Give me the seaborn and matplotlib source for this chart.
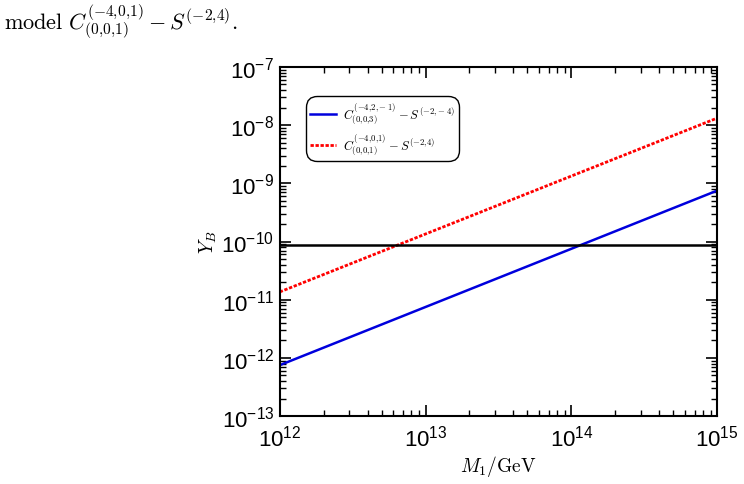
import matplotlib
matplotlib.use("Agg")
import matplotlib.pyplot as plt
import matplotlib.ticker as mticker
from matplotlib.font_manager import FontProperties
import seaborn as sns
import pandas as pd
import numpy as np

# Data
M1 = [1e12, 1e15]
YB_blue = [7.5e-13, 7.5e-10]
YB_red = [1.36e-11, 1.32e-8]
YB_obs = 8.7e-11
label_blue = r"$C^{(-4{,}2{,}-1)}_{(0{,}0{,}3)}-S^{(-2{,}-4)}$"
label_red = r"$C^{(-4{,}0{,}1)}_{(0{,}0{,}1)}-S^{(-2{,}4)}$"

plt.rcParams["font.family"] = ["Liberation Sans", "DejaVu Sans"]
plt.rcParams["mathtext.fontset"] = "custom"
plt.rcParams["mathtext.rm"] = "Liberation Sans"
plt.rcParams["mathtext.it"] = "Liberation Sans:italic"
plt.rcParams["mathtext.bf"] = "Liberation Sans:bold"
plt.rcParams["mathtext.sf"] = "Liberation Sans"

fig = plt.figure(figsize=(7.44, 4.85), dpi=100)
ax = fig.add_axes([0.376, 0.140, 0.588, 0.720])

df = pd.DataFrame({"M1": M1 + M1,
                   "YB": YB_blue + YB_red,
                   "model": [label_blue] * 2 + [label_red] * 2})
sns.lineplot(data=df[df.model == label_blue], x="M1", y="YB", ax=ax,
             color="#0000dd", lw=1.8, label=label_blue)
sns.lineplot(data=df[df.model == label_red], x="M1", y="YB", ax=ax,
             color="#ff0000", lw=2.0, linestyle=(0, (1.2, 0.6)), label=label_red)
ax.axhline(YB_obs, color="black", lw=1.8)

ax.set_xscale("log")
ax.set_yscale("log")
ax.set_xlim(1e12, 1e15)
ax.set_ylim(1e-13, 1e-7)

ax.xaxis.set_major_locator(mticker.LogLocator(base=10, numticks=10))
ax.yaxis.set_major_locator(mticker.LogLocator(base=10, numticks=10))
ax.xaxis.set_minor_locator(mticker.LogLocator(base=10, subs=np.arange(2, 10), numticks=20))
ax.yaxis.set_minor_locator(mticker.LogLocator(base=10, subs=np.arange(2, 10), numticks=20))
ax.xaxis.set_minor_formatter(mticker.NullFormatter())
ax.yaxis.set_minor_formatter(mticker.NullFormatter())
ax.tick_params(which="both", direction="in", top=True, right=True, color="black")
ax.tick_params(which="major", length=8, width=1.2, labelsize=16, pad=4)
ax.tick_params(which="minor", length=4.5, width=1.0)
ax.tick_params(axis="x", which="major", pad=6)
for s in ax.spines.values():
    s.set_color("black")
    s.set_linewidth(1.5)

ax.set_xlabel(r"$M_1/\mathrm{GeV}$", fontsize=14, labelpad=2, math_fontfamily="cm")
ax.set_ylabel(r"$Y_B$", fontsize=14, labelpad=2, math_fontfamily="cm")
ax.grid(False)

leg = ax.legend(loc="upper left", bbox_to_anchor=(0.045, 0.935),
                prop=FontProperties(size=9, math_fontfamily="cm"),
                frameon=True, fancybox=True, edgecolor="black", framealpha=1,
                handlelength=2.1, handletextpad=0.5, borderpad=0.35, labelspacing=0.5)
leg.get_frame().set_linewidth(1.0)
leg.get_frame().set_boxstyle("round", pad=0.0, rounding_size=0.9)

fig.text(0.006, 0.955, r"$\mathrm{model}\ C^{(-4{,}0{,}1)}_{(0{,}0{,}1)}-S^{(-2{,}4)}.$",
         fontsize=16, math_fontfamily="cm", va="center", ha="left")

fig.savefig("out.png", dpi=100)
